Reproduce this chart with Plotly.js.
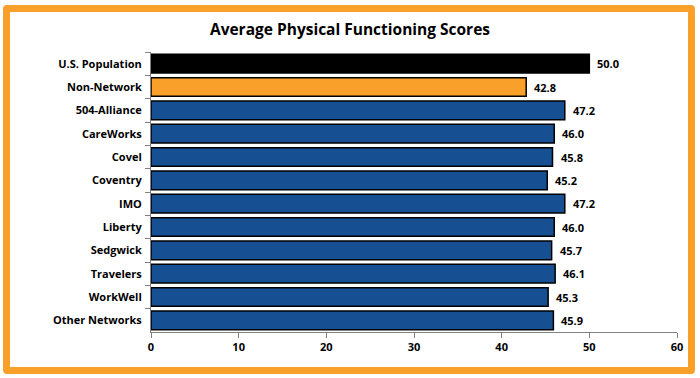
<!DOCTYPE html>
<html>
<head>
<meta charset="utf-8">
<script src="https://cdn.plot.ly/plotly-3.0.1.min.js"></script>
<style>
  html, body { margin: 0; padding: 0; background: #ffffff; }
  #wrap { position: relative; width: 700px; height: 378px; }
  #chart { position: absolute; left: 0; top: 0; width: 700px; height: 378px; }
  #frame { position: absolute; left: 3px; top: 5px; width: 692px; height: 369px;
           box-sizing: border-box; border: 7px solid #F8A02A; border-radius: 4px;
           pointer-events: none; }
</style>
</head>
<body>
<div id="wrap">
  <div id="chart"></div>
  <div id="frame"></div>
</div>
<script>
const categories = ["U.S. Population", "Non-Network", "504-Alliance", "CareWorks", "Covel",
  "Coventry", "IMO", "Liberty", "Sedgwick", "Travelers", "WorkWell", "Other Networks"];
const scores = [50.0, 42.8, 47.2, 46.0, 45.8, 45.2, 47.2, 46.0, 45.7, 46.1, 45.3, 45.9];
const barColors = ["#000000", "#F8A02A", "#174F93", "#174F93", "#174F93", "#174F93",
  "#174F93", "#174F93", "#174F93", "#174F93", "#174F93", "#174F93"];
const xTicks = [0, 10, 20, 30, 40, 50, 60];

const font = "Segoe UI, 'Open Sans', 'Noto Sans', sans-serif";

const trace = {
  type: "bar",
  orientation: "h",
  y: categories,
  x: scores,
  marker: { color: barColors, line: { color: "#000000", width: 1.5 } },
  hoverinfo: "none"
};

const labels = categories.map((c, i) => ({
  x: scores[i], y: c, xref: "x", yref: "y",
  text: scores[i].toFixed(1), showarrow: false,
  xanchor: "left", xshift: 6,
  font: { family: font, size: 11, color: "#000000", weight: "bold" }
}));

const layout = {
  width: 700, height: 378,
  margin: { l: 151, r: 23, t: 52, b: 46 },
  paper_bgcolor: "#ffffff", plot_bgcolor: "#ffffff",
  showlegend: false,
  bargap: 0.2,
  annotations: labels,
  title: { text: "Average Physical Functioning Scores", x: 0.5, xref: "container", xanchor: "center",
           y: 0.921, yref: "container", yanchor: "middle",
           font: { family: font, size: 15.5, color: "#000000", weight: "bold" } },
  xaxis: {
    range: [0, 60], tickvals: xTicks, ticktext: xTicks.map(String),
    showgrid: false, zeroline: false,
    showline: true, linecolor: "#808080", linewidth: 1,
    ticks: "outside", ticklen: 5, tickcolor: "#808080",
    tickfont: { family: font, size: 11, color: "#000000", weight: "bold" },
    fixedrange: true
  },
  yaxis: {
    autorange: "reversed", type: "category",
    showgrid: false, zeroline: false,
    showline: true, linecolor: "#808080", linewidth: 1,
    ticks: "outside", ticklen: 5, tickcolor: "#808080",
    tickson: "boundaries",
    ticklabelstandoff: 6,
    tickfont: { family: font, size: 11, color: "#000000", weight: "bold" },
    fixedrange: true
  }
};

Plotly.newPlot("chart", [trace], layout, { displayModeBar: false, staticPlot: true });
</script>
</body>
</html>
